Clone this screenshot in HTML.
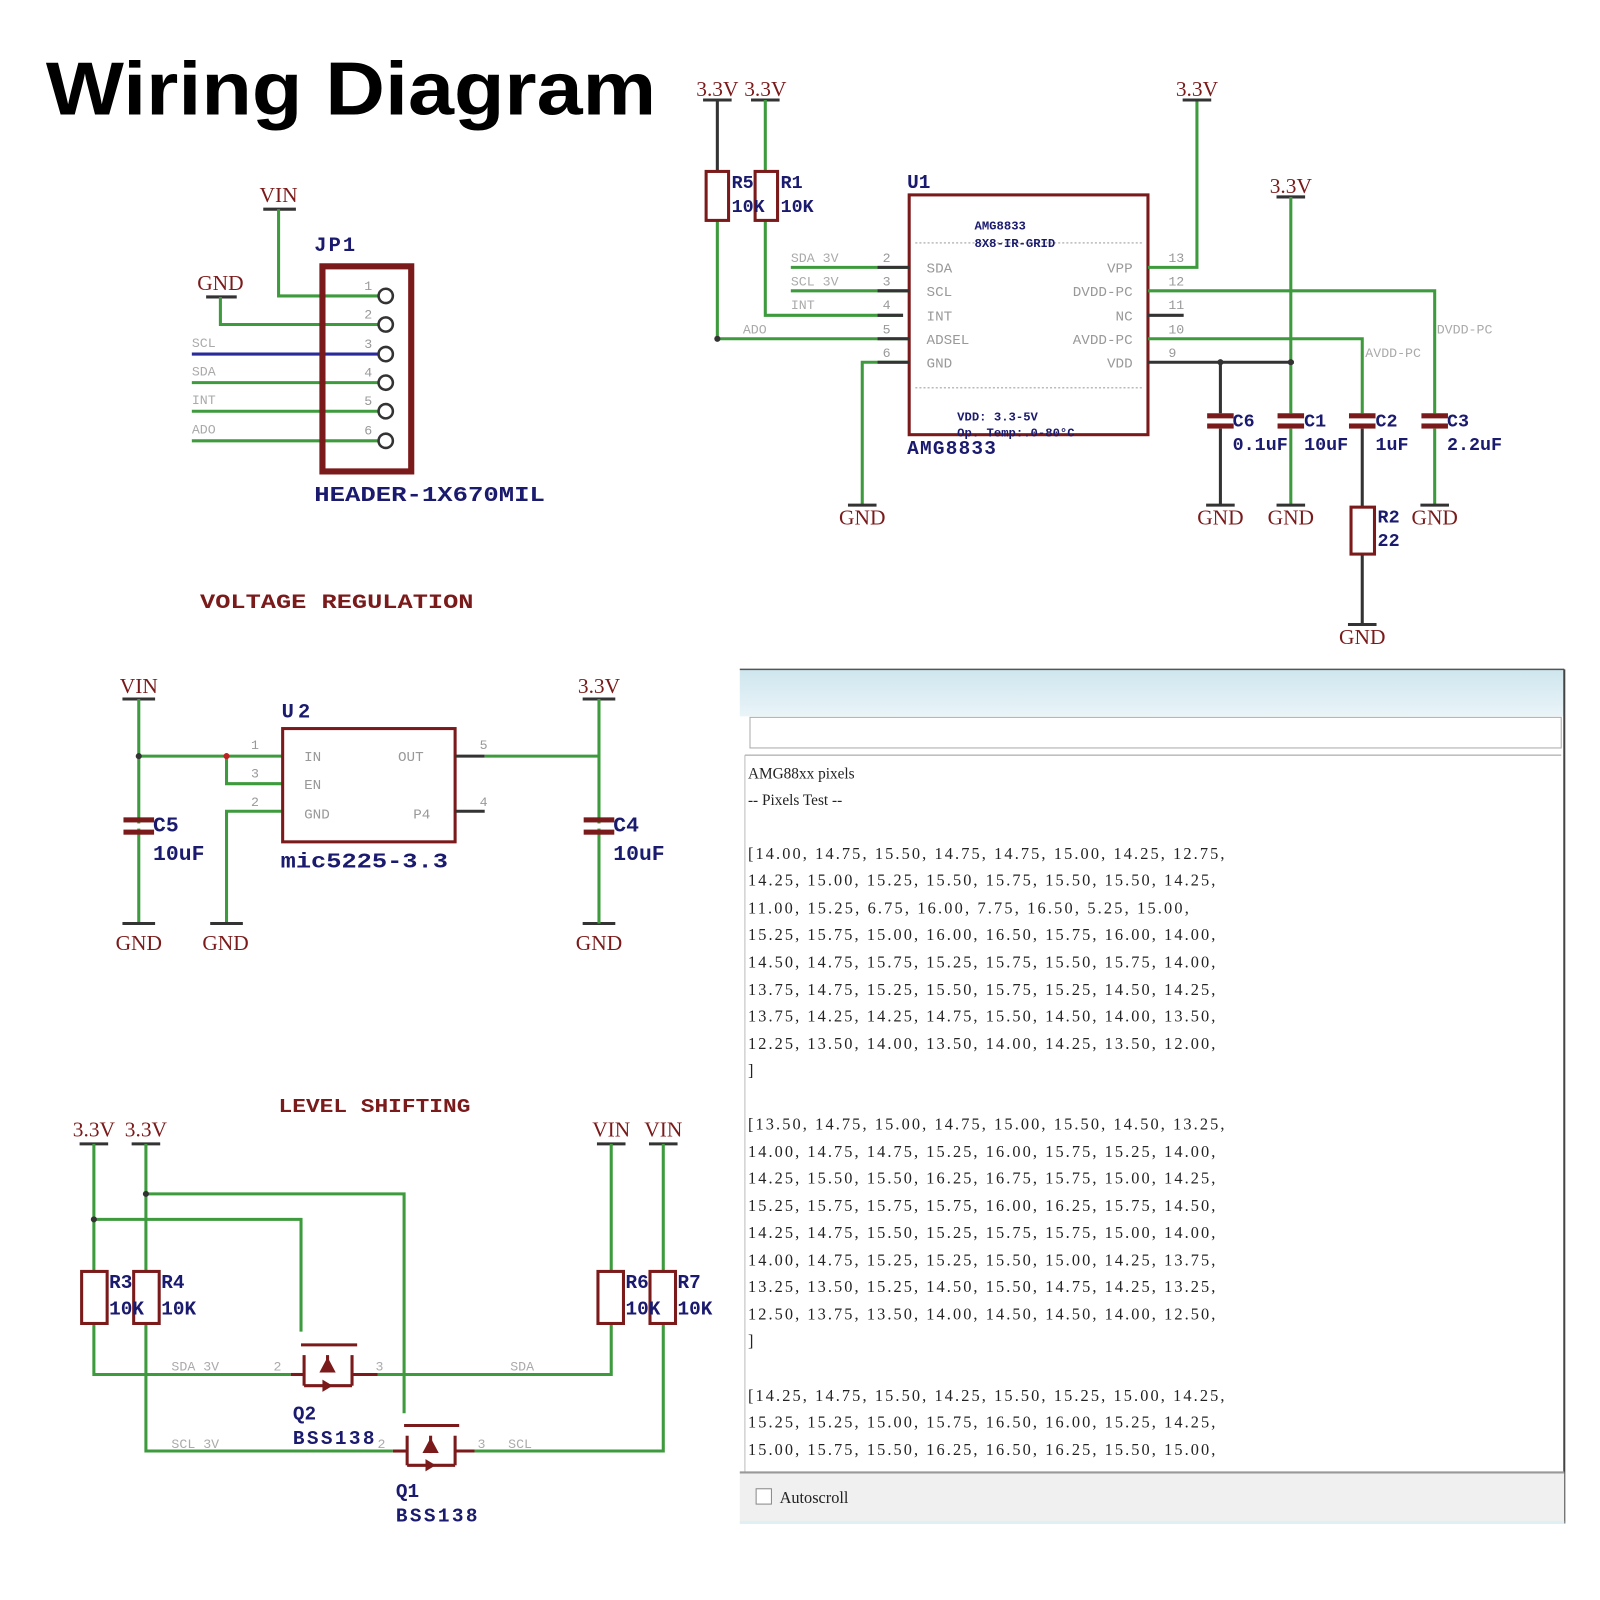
<!DOCTYPE html>
<html><head><meta charset="utf-8"><style>
html,body{margin:0;padding:0;background:#fff;}
svg{display:block}
.g{stroke:#3d9a3d;stroke-width:3;fill:none}
.r{stroke:#8b1a1a;stroke-width:3;fill:none}
.k{stroke:#333;stroke-width:3;fill:none}
.lab{font-family:"Liberation Serif",serif;font-size:21px;fill:#7a1a1a}
.nv{font-family:"Liberation Mono",monospace;font-weight:bold;fill:#1a1a6e}
.sm{font-family:"Liberation Mono",monospace;font-size:13px;fill:#aaa}
.pn{font-family:"Liberation Mono",monospace;font-size:13px;fill:#999}
.ic{font-family:"Liberation Mono",monospace;font-size:14px;fill:#999}
.dt{font-family:"Liberation Serif",serif;font-size:16px;fill:#222}
</style></head><body>
<svg width="1600" height="1600" viewBox="0 0 1568 1568" xmlns="http://www.w3.org/2000/svg">
<rect width="1568" height="1568" fill="#fff"/>
<text x="45" y="112" font-family="Liberation Sans,sans-serif" font-weight="bold" font-size="74" textLength="598" lengthAdjust="spacingAndGlyphs" fill="#000">Wiring Diagram</text>

<!-- JP1 -->
<text class="lab" x="273" y="198" text-anchor="middle">VIN</text>
<line class="k" x1="258" y1="205" x2="290" y2="205"/>
<polyline class="g" points="273,205 273,290 371,290"/>
<text class="lab" x="216" y="284" text-anchor="middle">GND</text>
<line class="k" x1="202" y1="291" x2="232" y2="291"/>
<polyline class="g" points="216,291 216,318 371,318"/>
<line x1="188" y1="347" x2="371" y2="347" stroke="#2a2a9a" stroke-width="3"/>
<line class="g" x1="188" y1="375" x2="371" y2="375"/>
<line class="g" x1="188" y1="403" x2="371" y2="403"/>
<line class="g" x1="188" y1="432" x2="371" y2="432"/>
<text class="sm" x="188" y="340">SCL</text><text class="sm" x="188" y="368">SDA</text><text class="sm" x="188" y="396">INT</text><text class="sm" x="188" y="425">ADO</text>
<rect x="316" y="261" width="87" height="201" fill="none" stroke="#7a1a1a" stroke-width="6"/>
<g fill="#fff" stroke="#333" stroke-width="2.5">
<circle cx="378" cy="290" r="7"/><circle cx="378" cy="318" r="7"/><circle cx="378" cy="347" r="7"/><circle cx="378" cy="375" r="7"/><circle cx="378" cy="403" r="7"/><circle cx="378" cy="432" r="7"/></g>
<g class="pn"><text x="357" y="284">1</text><text x="357" y="312">2</text><text x="357" y="341">3</text><text x="357" y="369">4</text><text x="357" y="397">5</text><text x="357" y="426">6</text></g>
<text class="nv" x="308" y="246" font-size="20" textLength="40">JP1</text>
<text class="nv" x="308" y="491" font-size="21" textLength="226" lengthAdjust="spacingAndGlyphs">HEADER-1X670MIL</text>

<text class="nv" x="196" y="596" font-size="20" textLength="268" lengthAdjust="spacingAndGlyphs" style="fill:#7a1a1a">VOLTAGE REGULATION</text>

<!-- U2 -->
<text class="lab" x="136" y="679" text-anchor="middle">VIN</text>
<line class="k" x1="120" y1="685" x2="152" y2="685"/>
<line class="g" x1="136" y1="685" x2="136" y2="905"/>
<line class="g" x1="136" y1="741" x2="277" y2="741"/>
<polyline class="g" points="222,741 222,768 277,768"/>
<polyline class="g" points="277,795 222,795 222,905"/>
<circle cx="136" cy="741" r="3" fill="#333"/><circle cx="222" cy="741" r="3" fill="#b22"/>
<line class="k" x1="120" y1="905" x2="152" y2="905"/><line class="k" x1="206" y1="905" x2="238" y2="905"/><line class="k" x1="571" y1="905" x2="603" y2="905"/>
<text class="lab" x="136" y="931" text-anchor="middle">GND</text><text class="lab" x="221" y="931" text-anchor="middle">GND</text><text class="lab" x="587" y="931" text-anchor="middle">GND</text>
<rect x="277" y="714" width="169" height="111" fill="#fff" stroke="#7a1a1a" stroke-width="3"/>
<g class="ic"><text x="298" y="746">IN</text><text x="298" y="773">EN</text><text x="298" y="802">GND</text><text x="390" y="746">OUT</text><text x="405" y="802">P4</text></g>
<g class="pn"><text x="246" y="734">1</text><text x="246" y="762">3</text><text x="246" y="790">2</text><text x="470" y="734">5</text><text x="470" y="790">4</text></g>
<line class="k" x1="446" y1="741" x2="475" y2="741"/><line class="k" x1="446" y1="795" x2="475" y2="795"/>
<text class="nv" x="276" y="703" font-size="20" textLength="28">U2</text>
<text class="nv" x="275" y="850" font-size="21" textLength="164" lengthAdjust="spacingAndGlyphs">mic5225-3.3</text>
<text class="lab" x="587" y="679" text-anchor="middle">3.3V</text>
<line class="k" x1="571" y1="685" x2="603" y2="685"/>
<line class="g" x1="587" y1="685" x2="587" y2="905"/>
<line class="g" x1="475" y1="741" x2="587" y2="741"/>
<g fill="#7a1a1a"><rect x="121" y="801" width="30" height="5"/><rect x="121" y="813" width="30" height="5"/><rect x="572" y="801" width="30" height="5"/><rect x="572" y="813" width="30" height="5"/></g>
<rect x="122" y="807" width="28" height="5" fill="#fff"/><rect x="573" y="807" width="28" height="5" fill="#fff"/>
<text class="nv" x="150" y="815" font-size="21">C5</text><text class="nv" x="150" y="843" font-size="21">10uF</text>
<text class="nv" x="601" y="815" font-size="21">C4</text><text class="nv" x="601" y="843" font-size="21">10uF</text>

<!-- LEVEL SHIFTING -->
<text class="nv" x="273" y="1090" font-size="19" textLength="188" lengthAdjust="spacingAndGlyphs" style="fill:#7a1a1a">LEVEL SHIFTING</text>
<text class="lab" x="92" y="1114" text-anchor="middle">3.3V</text><text class="lab" x="143" y="1114" text-anchor="middle">3.3V</text>
<text class="lab" x="599" y="1114" text-anchor="middle">VIN</text><text class="lab" x="650" y="1114" text-anchor="middle">VIN</text>
<line class="k" x1="78" y1="1121" x2="106" y2="1121"/><line class="k" x1="129" y1="1121" x2="157" y2="1121"/>
<line class="k" x1="585" y1="1121" x2="613" y2="1121"/><line class="k" x1="636" y1="1121" x2="664" y2="1121"/>
<polyline class="g" points="92,1121 92,1246"/><polyline class="g" points="92,1297 92,1347 285,1347"/>
<polyline class="g" points="143,1121 143,1246"/><polyline class="g" points="143,1297 143,1422 385,1422"/>
<polyline class="g" points="370,1347 599,1347 599,1297"/><polyline class="g" points="599,1121 599,1246"/>
<polyline class="g" points="465,1422 650,1422 650,1297"/><polyline class="g" points="650,1121 650,1246"/>
<polyline class="g" points="92,1195 295,1195 295,1305"/>
<polyline class="g" points="143,1170 396,1170 396,1385"/>
<circle cx="92" cy="1195" r="3" fill="#333"/><circle cx="143" cy="1170" r="3" fill="#333"/>
<g fill="#fff" stroke="#7a1a1a" stroke-width="3">
<rect x="80" y="1246" width="25" height="51"/><rect x="131" y="1246" width="25" height="51"/>
<rect x="586" y="1246" width="25" height="51"/><rect x="637" y="1246" width="25" height="51"/></g>
<g class="nv" font-size="19"><text x="107" y="1262">R3</text><text x="107" y="1288">10K</text><text x="158" y="1262">R4</text><text x="158" y="1288">10K</text>
<text x="613" y="1262">R6</text><text x="613" y="1288">10K</text><text x="664" y="1262">R7</text><text x="664" y="1288">10K</text></g>
<g stroke="#7a1a1a" stroke-width="3" fill="none">
<line x1="295" y1="1318" x2="350" y2="1318"/>
<line x1="298" y1="1328" x2="298" y2="1358"/><line x1="345" y1="1328" x2="345" y2="1358"/><line x1="321" y1="1328" x2="321" y2="1345"/>
<line x1="285" y1="1347" x2="298" y2="1347"/><line x1="345" y1="1347" x2="370" y2="1347"/>
<line x1="298" y1="1358" x2="345" y2="1358"/>
<line x1="396" y1="1397" x2="450" y2="1397"/>
<line x1="399" y1="1407" x2="399" y2="1436"/><line x1="446" y1="1407" x2="446" y2="1436"/><line x1="422" y1="1407" x2="422" y2="1424"/>
<line x1="385" y1="1422" x2="399" y2="1422"/><line x1="446" y1="1422" x2="465" y2="1422"/>
<line x1="399" y1="1436" x2="446" y2="1436"/></g>
<g fill="#7a1a1a"><polygon points="313,1345 329,1345 321,1330"/><polygon points="316,1352 316,1364 326,1358"/>
<polygon points="414,1424 430,1424 422,1409"/><polygon points="417,1430 417,1442 427,1436"/></g>
<g class="sm"><text x="168" y="1343">SDA 3V</text><text x="268" y="1343">2</text><text x="368" y="1343">3</text><text x="500" y="1343">SDA</text>
<text x="168" y="1419">SCL 3V</text><text x="370" y="1419">2</text><text x="468" y="1419">3</text><text x="498" y="1419">SCL</text></g>
<g class="nv" font-size="19"><text x="287" y="1391">Q2</text><text x="287" y="1415" textLength="80">BSS138</text><text x="388" y="1467">Q1</text><text x="388" y="1491" textLength="80">BSS138</text></g>

<!-- U1 -->
<text class="lab" x="703" y="94" text-anchor="middle" font-size="19">3.3V</text><text class="lab" x="750" y="94" text-anchor="middle" font-size="19">3.3V</text>
<line class="k" x1="689" y1="98" x2="717" y2="98"/><line class="k" x1="736" y1="98" x2="764" y2="98"/>
<line class="k" x1="703" y1="98" x2="703" y2="168"/><line class="g" x1="750" y1="98" x2="750" y2="168"/>
<polyline class="g" points="703,216 703,332 891,332"/>
<polyline class="g" points="750,216 750,309 885,309"/>
<circle cx="703" cy="332" r="3" fill="#333"/>
<g fill="#fff" stroke="#7a1a1a" stroke-width="3"><rect x="692" y="168" width="22" height="48"/><rect x="740" y="168" width="22" height="48"/></g>
<g class="nv" font-size="18"><text x="717" y="184">R5</text><text x="717" y="208">10K</text><text x="765" y="184">R1</text><text x="765" y="208">10K</text></g>
<line class="g" x1="775" y1="262" x2="891" y2="262"/><line class="g" x1="775" y1="285" x2="891" y2="285"/>
<polyline class="g" points="891,355 845,355 845,495"/>
<line class="k" x1="831" y1="495" x2="859" y2="495"/><text class="lab" x="845" y="514" text-anchor="middle" font-size="19">GND</text>
<g class="sm" font-size="12"><text x="775" y="257">SDA 3V</text><text x="775" y="280">SCL 3V</text><text x="775" y="303">INT</text><text x="728" y="327">ADO</text>
<text x="1408" y="327">DVDD-PC</text><text x="1338" y="350">AVDD-PC</text></g>
<rect x="891" y="191" width="234" height="235" fill="#fff" stroke="#7a1a1a" stroke-width="3"/>
<line x1="897" y1="238" x2="1120" y2="238" stroke="#bbb" stroke-width="1.5" stroke-dasharray="2 2"/>
<line x1="897" y1="380" x2="1120" y2="380" stroke="#bbb" stroke-width="1.5" stroke-dasharray="2 2"/>
<g class="nv" font-size="12"><text x="955" y="225">AMG8833</text><text x="955" y="242">8X8-IR-GRID</text><text x="938" y="412">VDD: 3.3-5V</text><text x="938" y="428">Op. Temp:.0-80°C</text></g>
<g class="ic" font-size="13"><text x="908" y="267">SDA</text><text x="908" y="290">SCL</text><text x="908" y="314">INT</text><text x="908" y="337">ADSEL</text><text x="908" y="360">GND</text>
<g text-anchor="end"><text x="1110" y="267">VPP</text><text x="1110" y="290">DVDD-PC</text><text x="1110" y="314">NC</text><text x="1110" y="337">AVDD-PC</text><text x="1110" y="360">VDD</text></g></g>
<g class="pn"><text x="865" y="257">2</text><text x="865" y="280">3</text><text x="865" y="303">4</text><text x="865" y="327">5</text><text x="865" y="350">6</text>
<text x="1145" y="257">13</text><text x="1145" y="280">12</text><text x="1145" y="303">11</text><text x="1145" y="327">10</text><text x="1145" y="350">9</text></g>
<line class="k" x1="860" y1="262" x2="891" y2="262"/><line class="k" x1="860" y1="285" x2="891" y2="285"/><line class="k" x1="860" y1="309" x2="885" y2="309"/><line class="k" x1="860" y1="332" x2="891" y2="332"/><line class="k" x1="860" y1="355" x2="891" y2="355"/>
<line class="k" x1="1125" y1="309" x2="1160" y2="309"/>
<polyline class="g" points="1125,262 1173,262 1173,98"/>
<line class="k" x1="1159" y1="98" x2="1187" y2="98"/><text class="lab" x="1173" y="94" text-anchor="middle" font-size="19">3.3V</text>
<polyline class="g" points="1125,285 1406,285 1406,405"/>
<polyline class="g" points="1125,332 1335,332 1335,405"/>
<line class="k" x1="1125" y1="355" x2="1268" y2="355"/>
<line class="k" x1="1251" y1="193" x2="1279" y2="193"/><text class="lab" x="1265" y="189" text-anchor="middle" font-size="19">3.3V</text>
<line class="g" x1="1265" y1="193" x2="1265" y2="405"/>
<line class="k" x1="1196" y1="355" x2="1196" y2="405"/>
<circle cx="1196" cy="355" r="3" fill="#333"/><circle cx="1265" cy="355" r="3" fill="#333"/>
<g fill="#7a1a1a">
<rect x="1183" y="405" width="26" height="5"/><rect x="1183" y="415" width="26" height="5"/>
<rect x="1252" y="405" width="26" height="5"/><rect x="1252" y="415" width="26" height="5"/>
<rect x="1322" y="405" width="26" height="5"/><rect x="1322" y="415" width="26" height="5"/>
<rect x="1393" y="405" width="26" height="5"/><rect x="1393" y="415" width="26" height="5"/></g>
<line class="k" x1="1196" y1="420" x2="1196" y2="495"/><line class="g" x1="1265" y1="420" x2="1265" y2="495"/>
<line class="k" x1="1335" y1="420" x2="1335" y2="497"/><line class="k" x1="1335" y1="543" x2="1335" y2="612"/>
<line class="g" x1="1406" y1="420" x2="1406" y2="495"/>
<rect x="1324" y="497" width="23" height="46" fill="#fff" stroke="#7a1a1a" stroke-width="3"/>
<line class="k" x1="1182" y1="495" x2="1210" y2="495"/><line class="k" x1="1251" y1="495" x2="1279" y2="495"/><line class="k" x1="1392" y1="495" x2="1420" y2="495"/><line class="k" x1="1321" y1="612" x2="1349" y2="612"/>
<g class="lab" font-size="19" text-anchor="middle"><text x="1196" y="514">GND</text><text x="1265" y="514">GND</text><text x="1406" y="514">GND</text><text x="1335" y="631">GND</text></g>
<g class="nv" font-size="18"><text x="1208" y="418">C6</text><text x="1208" y="441">0.1uF</text><text x="1278" y="418">C1</text><text x="1278" y="441">10uF</text>
<text x="1348" y="418">C2</text><text x="1348" y="441">1uF</text><text x="1418" y="418">C3</text><text x="1418" y="441">2.2uF</text>
<text x="1350" y="512">R2</text><text x="1350" y="535">22</text></g>
<text class="nv" x="889" y="184" font-size="19">U1</text><text class="nv" x="889" y="445" font-size="19" textLength="87">AMG8833</text>

<!-- Serial monitor -->
<defs><linearGradient id="tb" x1="0" y1="0" x2="0" y2="1"><stop offset="0" stop-color="#cfe6ee"/><stop offset="1" stop-color="#e9f4f8"/></linearGradient></defs>
<rect x="725" y="656" width="808" height="837" fill="#fff"/>
<rect x="725" y="656" width="808" height="46" fill="url(#tb)"/>
<line x1="725" y1="656" x2="1533" y2="656" stroke="#555" stroke-width="1.5"/>
<line x1="1533" y1="656" x2="1533" y2="1493" stroke="#444" stroke-width="2"/>
<rect x="735" y="703" width="795" height="30" fill="#fff" stroke="#aaa" stroke-width="1"/>
<line x1="730" y1="740" x2="1530" y2="740" stroke="#999" stroke-width="1"/>
<line x1="730" y1="740" x2="730" y2="1443" stroke="#bbb" stroke-width="1"/>
<rect x="725" y="1443" width="808" height="50" fill="#f0f0f0"/>
<line x1="725" y1="1443" x2="1533" y2="1443" stroke="#999" stroke-width="2"/>
<line x1="725" y1="1492" x2="1533" y2="1492" stroke="#dff0f4" stroke-width="3"/>
<rect x="741" y="1459" width="15" height="15" fill="#fff" stroke="#888"/>
<text class="dt" x="764" y="1473" font-size="15">Autoscroll</text>
<g class="dt">
<text x="733" y="763" font-size="15">AMG88xx pixels</text>
<text x="733" y="789" font-size="15">-- Pixels Test --</text>
<text x="733" y="842" textLength="467">[14.00,  14.75,  15.50,  14.75,  14.75,  15.00,  14.25,  12.75,</text>
<text x="733" y="868" textLength="458">14.25,  15.00,  15.25,  15.50,  15.75,  15.50,  15.50,  14.25,</text>
<text x="733" y="895" textLength="432">11.00,  15.25,  6.75,  16.00,  7.75,  16.50,  5.25,  15.00,</text>
<text x="733" y="921" textLength="458">15.25,  15.75,  15.00,  16.00,  16.50,  15.75,  16.00,  14.00,</text>
<text x="733" y="948" textLength="458">14.50,  14.75,  15.75,  15.25,  15.75,  15.50,  15.75,  14.00,</text>
<text x="733" y="975" textLength="458">13.75,  14.75,  15.25,  15.50,  15.75,  15.25,  14.50,  14.25,</text>
<text x="733" y="1001" textLength="458">13.75,  14.25,  14.25,  14.75,  15.50,  14.50,  14.00,  13.50,</text>
<text x="733" y="1028" textLength="458">12.25,  13.50,  14.00,  13.50,  14.00,  14.25,  13.50,  12.00,</text>
<text x="733" y="1054">]</text>
<text x="733" y="1107" textLength="467">[13.50,  14.75,  15.00,  14.75,  15.00,  15.50,  14.50,  13.25,</text>
<text x="733" y="1134" textLength="458">14.00,  14.75,  14.75,  15.25,  16.00,  15.75,  15.25,  14.00,</text>
<text x="733" y="1160" textLength="458">14.25,  15.50,  15.50,  16.25,  16.75,  15.75,  15.00,  14.25,</text>
<text x="733" y="1187" textLength="458">15.25,  15.75,  15.75,  15.75,  16.00,  16.25,  15.75,  14.50,</text>
<text x="733" y="1213" textLength="458">14.25,  14.75,  15.50,  15.25,  15.75,  15.75,  15.00,  14.00,</text>
<text x="733" y="1240" textLength="458">14.00,  14.75,  15.25,  15.25,  15.50,  15.00,  14.25,  13.75,</text>
<text x="733" y="1266" textLength="458">13.25,  13.50,  15.25,  14.50,  15.50,  14.75,  14.25,  13.25,</text>
<text x="733" y="1293" textLength="458">12.50,  13.75,  13.50,  14.00,  14.50,  14.50,  14.00,  12.50,</text>
<text x="733" y="1319">]</text>
<text x="733" y="1373" textLength="467">[14.25,  14.75,  15.50,  14.25,  15.50,  15.25,  15.00,  14.25,</text>
<text x="733" y="1399" textLength="458">15.25,  15.25,  15.00,  15.75,  16.50,  16.00,  15.25,  14.25,</text>
<text x="733" y="1426" textLength="458">15.00,  15.75,  15.50,  16.25,  16.50,  16.25,  15.50,  15.00,</text>
</g>
</svg>
</body></html>
